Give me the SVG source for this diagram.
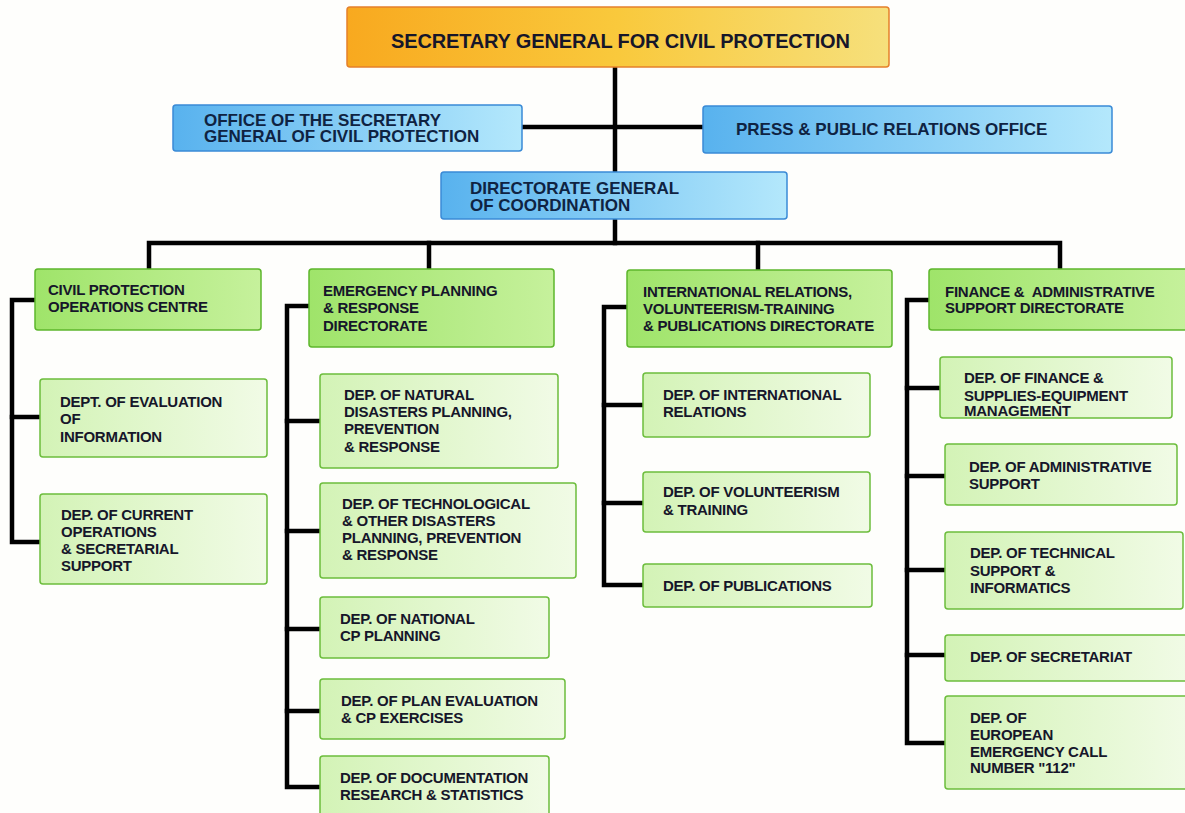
<svg xmlns="http://www.w3.org/2000/svg" width="1185" height="813" viewBox="0 0 1185 813">
  <defs>
    <linearGradient id="gOrange" x1="0" y1="0" x2="1" y2="0">
      <stop offset="0" stop-color="#f8a91f"/>
      <stop offset="0.5" stop-color="#f9c93c"/>
      <stop offset="1" stop-color="#f6e07c"/>
    </linearGradient>
    <linearGradient id="gBlue" x1="0" y1="0" x2="1" y2="0">
      <stop offset="0" stop-color="#58b2ee"/>
      <stop offset="1" stop-color="#b4e8fc"/>
    </linearGradient>
    <linearGradient id="gHead" x1="0" y1="0" x2="1" y2="0">
      <stop offset="0" stop-color="#9fe46a"/>
      <stop offset="1" stop-color="#c6f19c"/>
    </linearGradient>
    <linearGradient id="gSub" x1="0" y1="0" x2="1" y2="0">
      <stop offset="0" stop-color="#d3f3b6"/>
      <stop offset="1" stop-color="#f1fbe6"/>
    </linearGradient>
    <style>
      .top  { fill: url(#gOrange); stroke: #e5802a; stroke-width: 1.5; }
      .blue { fill: url(#gBlue); stroke: #3a8ad6; stroke-width: 1.5; }
      .head { fill: url(#gHead); stroke: #5db62c; stroke-width: 1.5; }
      .sub  { fill: url(#gSub); stroke: #6cbd3c; stroke-width: 1.5; }
      text { font-family: "Liberation Sans", Arial, sans-serif; font-weight: bold; fill: #16162a; }
      .t20 { font-size: 20px; letter-spacing: -0.15px; }
      .t17 { font-size: 17px; fill: #0f2342; }
      .t15 { font-size: 15px; letter-spacing: -0.25px; }
      .wire { fill: none; stroke: #000; stroke-width: 4.5; stroke-linejoin: miter; stroke-linecap: square; }
    </style>
  </defs>

  <rect width="1185" height="813" fill="#fefefc"/>

  <!-- connectors -->
  <g id="connectors" class="wire">
    <path d="M615 67 V243"/>
    <path d="M522 127 H703"/>
    <path d="M149 269 V243 H1060 V269"/>
    <path d="M429 243 V269"/>
    <path d="M758 243 V269"/>
    <!-- operations centre branch -->
    <path d="M35 300 H12 V542 H40"/>
    <path d="M12 417 H40"/>
    <!-- emergency planning branch -->
    <path d="M309 306 H287 V787 H320"/>
    <path d="M287 421 H320"/>
    <path d="M287 531 H320"/>
    <path d="M287 629 H320"/>
    <path d="M287 711 H320"/>
    <!-- international relations branch -->
    <path d="M627 307 H604 V585 H643"/>
    <path d="M604 405 H643"/>
    <path d="M604 503 H643"/>
    <!-- finance branch -->
    <path d="M929 300 H907 V743 H945"/>
    <path d="M907 388 H940"/>
    <path d="M907 476 H945"/>
    <path d="M907 570 H945"/>
    <path d="M907 655 H945"/>
  </g>

  <g id="secretary-general">
    <rect class="top" x="347" y="7" width="542" height="60" rx="3"/>
    <text class="t20" x="391" y="48">SECRETARY GENERAL FOR CIVIL PROTECTION</text>
  </g>

  <g id="office-secretary">
    <rect class="blue" x="173" y="105" width="349" height="46" rx="3"/>
    <text class="t17" x="204" y="126" font-size="16.5px">OFFICE OF THE SECRETARY</text>
    <text class="t17" x="204" y="142" font-size="16.5px">GENERAL OF CIVIL PROTECTION</text>
  </g>

  <g id="press-office">
    <rect class="blue" x="703" y="106" width="409" height="47" rx="3"/>
    <text class="t17" x="736" y="135">PRESS &amp; PUBLIC RELATIONS OFFICE</text>
  </g>

  <g id="directorate-coordination">
    <rect class="blue" x="441" y="172" width="346" height="47" rx="3"/>
    <text class="t17" x="470" y="194" font-size="16.5px">DIRECTORATE GENERAL</text>
    <text class="t17" x="470" y="211" font-size="16.5px">OF COORDINATION</text>
  </g>

  <!-- column 1 -->
  <g id="operations-centre">
    <rect class="head" x="35" y="269" width="226" height="61" rx="3"/>
    <text class="t15" x="48" y="295">CIVIL PROTECTION</text>
    <text class="t15" x="48" y="312">OPERATIONS CENTRE</text>
  </g>
  <g id="dept-evaluation">
    <rect class="sub" x="40" y="379" width="227" height="78" rx="3"/>
    <text class="t15" x="60" y="407">DEPT. OF EVALUATION</text>
    <text class="t15" x="60" y="424">OF</text>
    <text class="t15" x="60" y="442">INFORMATION</text>
  </g>
  <g id="dep-current-operations">
    <rect class="sub" x="40" y="494" width="227" height="90" rx="3"/>
    <text class="t15" x="61" y="520">DEP. OF CURRENT</text>
    <text class="t15" x="61" y="537">OPERATIONS</text>
    <text class="t15" x="61" y="554">&amp; SECRETARIAL</text>
    <text class="t15" x="61" y="571">SUPPORT</text>
  </g>

  <!-- column 2 -->
  <g id="emergency-planning">
    <rect class="head" x="309" y="269" width="245" height="78" rx="3"/>
    <text class="t15" x="323" y="296">EMERGENCY PLANNING</text>
    <text class="t15" x="323" y="313">&amp; RESPONSE</text>
    <text class="t15" x="323" y="331">DIRECTORATE</text>
  </g>
  <g id="dep-natural-disasters">
    <rect class="sub" x="320" y="374" width="238" height="94" rx="3"/>
    <text class="t15" x="344" y="400">DEP. OF NATURAL</text>
    <text class="t15" x="344" y="417">DISASTERS PLANNING,</text>
    <text class="t15" x="344" y="434">PREVENTION</text>
    <text class="t15" x="344" y="452">&amp; RESPONSE</text>
  </g>
  <g id="dep-technological-disasters">
    <rect class="sub" x="320" y="483" width="256" height="95" rx="3"/>
    <text class="t15" x="342" y="509">DEP. OF TECHNOLOGICAL</text>
    <text class="t15" x="342" y="526">&amp; OTHER DISASTERS</text>
    <text class="t15" x="342" y="543">PLANNING, PREVENTION</text>
    <text class="t15" x="342" y="560">&amp; RESPONSE</text>
  </g>
  <g id="dep-national-cp">
    <rect class="sub" x="320" y="597" width="229" height="61" rx="3"/>
    <text class="t15" x="340" y="624">DEP. OF NATIONAL</text>
    <text class="t15" x="340" y="641">CP PLANNING</text>
  </g>
  <g id="dep-plan-evaluation">
    <rect class="sub" x="320" y="679" width="245" height="60" rx="3"/>
    <text class="t15" x="341" y="706">DEP. OF PLAN EVALUATION</text>
    <text class="t15" x="341" y="723">&amp; CP EXERCISES</text>
  </g>
  <g id="dep-documentation">
    <rect class="sub" x="320" y="756" width="229" height="62" rx="3"/>
    <text class="t15" x="340" y="783">DEP. OF DOCUMENTATION</text>
    <text class="t15" x="340" y="800">RESEARCH &amp; STATISTICS</text>
  </g>

  <!-- column 3 -->
  <g id="international-relations">
    <rect class="head" x="627" y="270" width="265" height="77" rx="3"/>
    <text class="t15" x="643" y="297">INTERNATIONAL RELATIONS,</text>
    <text class="t15" x="643" y="314">VOLUNTEERISM-TRAINING</text>
    <text class="t15" x="643" y="331">&amp; PUBLICATIONS DIRECTORATE</text>
  </g>
  <g id="dep-international-relations">
    <rect class="sub" x="643" y="373" width="227" height="64" rx="3"/>
    <text class="t15" x="663" y="400">DEP. OF INTERNATIONAL</text>
    <text class="t15" x="663" y="417">RELATIONS</text>
  </g>
  <g id="dep-volunteerism">
    <rect class="sub" x="643" y="472" width="227" height="60" rx="3"/>
    <text class="t15" x="663" y="497">DEP. OF VOLUNTEERISM</text>
    <text class="t15" x="663" y="515">&amp; TRAINING</text>
  </g>
  <g id="dep-publications">
    <rect class="sub" x="643" y="564" width="229" height="43" rx="3"/>
    <text class="t15" x="663" y="591">DEP. OF PUBLICATIONS</text>
  </g>

  <!-- column 4 -->
  <g id="finance-administrative">
    <rect class="head" x="929" y="269" width="262" height="61" rx="3"/>
    <text class="t15" x="945" y="297" xml:space="preserve">FINANCE &amp;  ADMINISTRATIVE</text>
    <text class="t15" x="945" y="313">SUPPORT DIRECTORATE</text>
  </g>
  <g id="dep-finance-supplies">
    <rect class="sub" x="940" y="357" width="232" height="61" rx="3"/>
    <text class="t15" x="964" y="383">DEP. OF FINANCE &amp;</text>
    <text class="t15" x="964" y="401">SUPPLIES-EQUIPMENT</text>
    <text class="t15" x="964" y="416">MANAGEMENT</text>
  </g>
  <g id="dep-administrative-support">
    <rect class="sub" x="945" y="444" width="232" height="61" rx="3"/>
    <text class="t15" x="969" y="472">DEP. OF ADMINISTRATIVE</text>
    <text class="t15" x="969" y="489">SUPPORT</text>
  </g>
  <g id="dep-technical-support">
    <rect class="sub" x="945" y="532" width="238" height="77" rx="3"/>
    <text class="t15" x="970" y="558">DEP. OF TECHNICAL</text>
    <text class="t15" x="970" y="576">SUPPORT &amp;</text>
    <text class="t15" x="970" y="593">INFORMATICS</text>
  </g>
  <g id="dep-secretariat">
    <rect class="sub" x="945" y="635" width="244" height="46" rx="3"/>
    <text class="t15" x="970" y="662">DEP. OF SECRETARIAT</text>
  </g>
  <g id="dep-emergency-call">
    <rect class="sub" x="945" y="696" width="244" height="93" rx="3"/>
    <text class="t15" x="970" y="723">DEP. OF</text>
    <text class="t15" x="970" y="740">EUROPEAN</text>
    <text class="t15" x="970" y="757">EMERGENCY CALL</text>
    <text class="t15" x="970" y="773">NUMBER "112"</text>
  </g>
</svg>
